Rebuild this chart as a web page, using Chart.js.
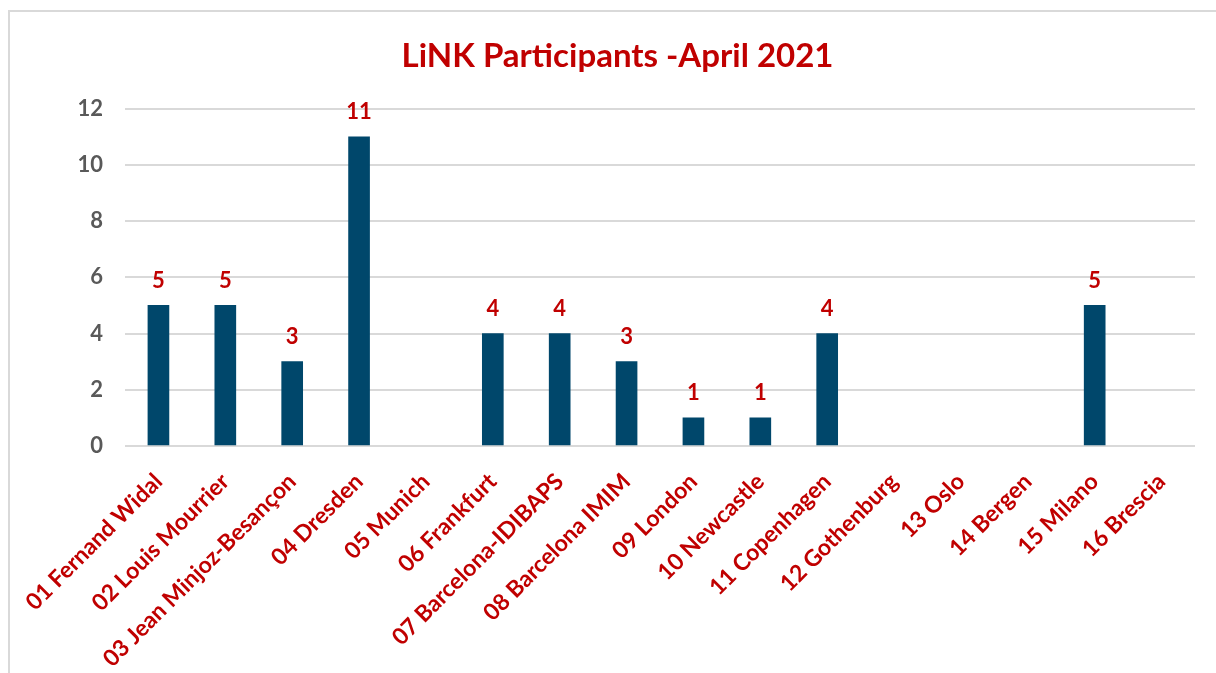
<!DOCTYPE html>
<html>
<head>
<meta charset="utf-8">
<script src="https://cdn.jsdelivr.net/npm/chart.js@4"></script>
<style>
    html, body { margin: 0; padding: 0; background: #fff; overflow: hidden; }
    #wrap { position: relative; width: 1216px; height: 673px; }
    #frame {
        position: absolute; left: 8px; top: 10px; width: 1230px; height: 700px;
        border: 2px solid #d9d9d9; box-sizing: border-box;
    }
    canvas { position: absolute; left: 0; top: 0; }
</style>
</head>
<body>
<div id="wrap">
    <div id="frame"></div>
    <canvas id="chart" width="1216" height="673"></canvas>
</div>
<script>
// ============================================================
// Data
// ============================================================

const SITES = ['01 Fernand Widal', '02 Louis Mourrier', '03 Jean Minjoz-Besançon', '04 Dresden',
               '05 Munich', '06 Frankfurt', '07 Barcelona-IDIBAPS', '08 Barcelona IMIM',
               '09 London', '10 Newcastle', '11 Copenhagen', '12 Gothenburg',
               '13 Oslo', '14 Bergen', '15 Milano', '16 Brescia'];

const PARTICIPANTS = [5, 5, 3, 11, 0, 4, 4, 3, 1, 1, 4, 0, 0, 0, 5, 0];

const Y_MIN = 0;
const Y_MAX = 12;
const Y_STEP = 2;

const RED = '#C00000';
const BAR_BLUE = '#00476B';
const FONT = 'Lato, "Open Sans", sans-serif';

// ============================================================
// Value labels above bars (skip empty sites)
// ============================================================

const valueLabels = {
    id: 'valueLabels',
    afterDatasetsDraw(chart) {
        const ctx = chart.ctx;
        const meta = chart.getDatasetMeta(0);
        ctx.save();
        ctx.font = 'bold 22px ' + FONT;
        ctx.fillStyle = RED;
        ctx.textAlign = 'center';
        ctx.textBaseline = 'middle';
        meta.data.forEach((bar, i) => {
            const v = PARTICIPANTS[i];
            if (!v) return;
            ctx.fillText(String(v), bar.x, bar.y - 25);
        });
        ctx.restore();
    }
};

// ============================================================
// Chart
// ============================================================

new Chart(document.getElementById('chart'), {
    type: 'bar',
    data: {
        labels: SITES,
        datasets: [{
            // empty sites get no bar at all
            data: PARTICIPANTS.map(v => v || null),
            backgroundColor: BAR_BLUE,
            borderWidth: 0,
            barThickness: 21
        }]
    },
    options: {
        responsive: false,
        animation: false,
        // left padding pushes the title centre right, y axis width compensates
        layout: { padding: { left: 40, right: 21, top: 0, bottom: 0 } },
        plugins: {
            legend: { display: false },
            tooltip: { enabled: false },
            title: {
                display: true,
                text: 'LiNK Participants -April 2021',
                color: RED,
                font: { family: FONT, size: 33, weight: 'bold' },
                padding: { top: 37, bottom: 32 }
            }
        },
        scales: {
            x: {
                grid: { display: false },
                border: { display: false },
                ticks: {
                    color: RED,
                    font: { family: FONT, size: 23, weight: 'bold' },
                    minRotation: 45,
                    maxRotation: 45,
                    autoSkip: false,
                    padding: 14
                },
                afterFit(scale) { scale.height = 227; }
            },
            y: {
                min: Y_MIN,
                max: Y_MAX,
                grid: { color: '#d9d9d9', lineWidth: 2, drawTicks: false },
                border: { display: false },
                ticks: {
                    stepSize: Y_STEP,
                    color: '#595959',
                    font: { family: FONT, size: 22, weight: 'bold' },
                    padding: 22
                },
                afterFit(scale) { scale.width = 85; }
            }
        }
    },
    plugins: [valueLabels]
});
</script>
</body>
</html>
